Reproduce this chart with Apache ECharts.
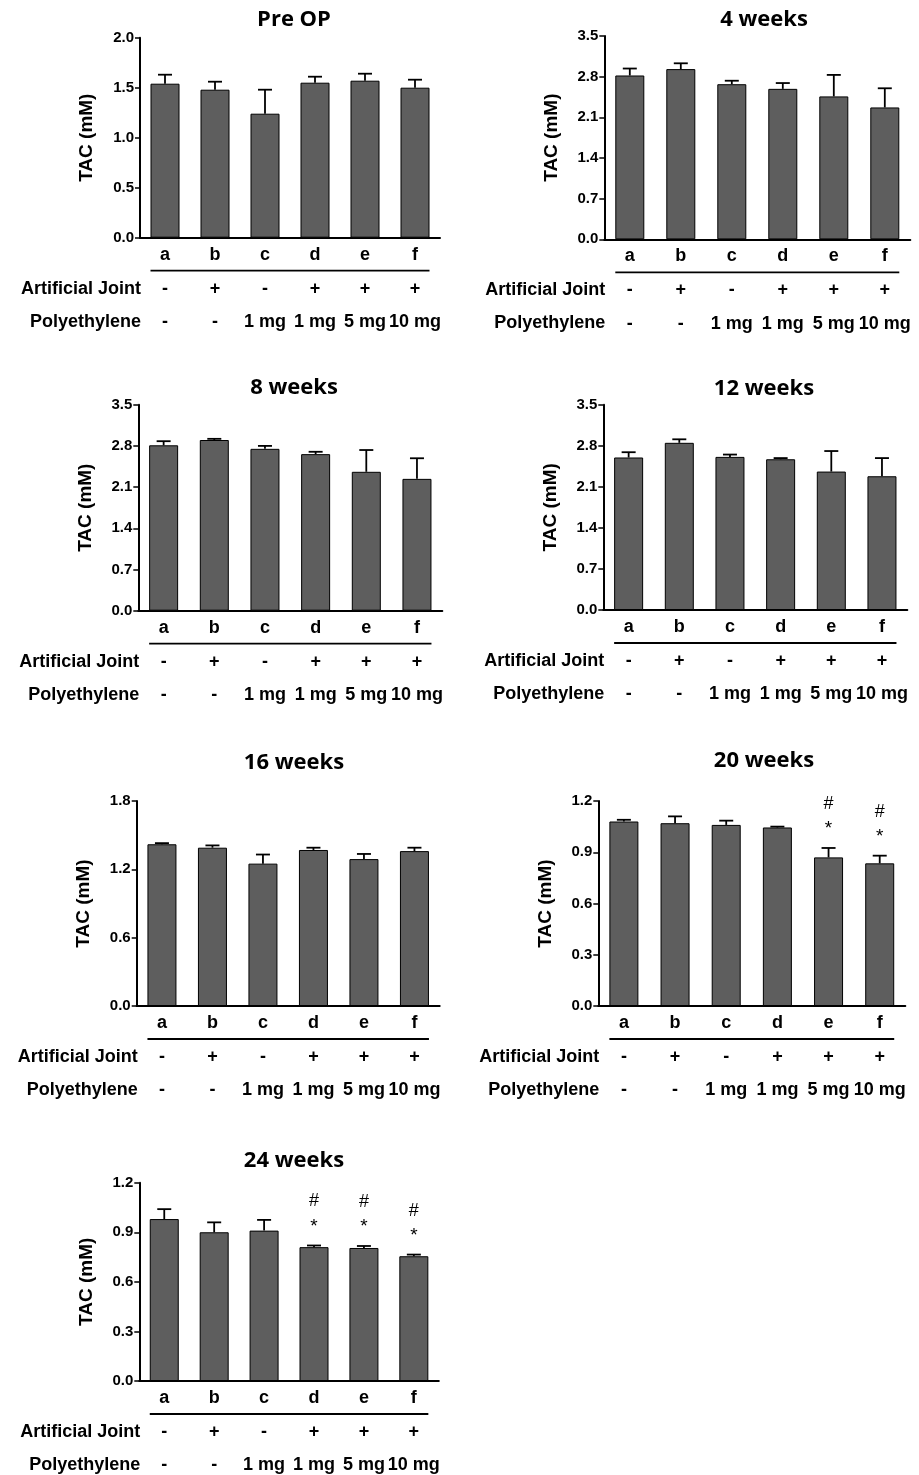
<!DOCTYPE html>
<html>
<head>
<meta charset="utf-8">
<script src="https://cdn.jsdelivr.net/npm/echarts@6/dist/echarts.min.js"></script>
<style>
html,body{margin:0;padding:0;background:#fff;}
#c{width:919px;height:1475px;}
</style>
</head>
<body>
<div id="c"></div>
<script>
// ---------------- data ----------------
const categories = ['a', 'b', 'c', 'd', 'e', 'f'];
const artificialJoint = ['-', '+', '-', '+', '+', '+'];
const polyethylene = ['-', '-', '1 mg', '1 mg', '5 mg', '10 mg'];
const rowTitles = ['Artificial Joint', 'Polyethylene'];
const panelTitles = ['Pre OP', '4 weeks', '8 weeks', '12 weeks', '16 weeks', '20 weeks', '24 weeks'];
const yAxisTitle = 'TAC (mM)';

const preOpMean = [1.54, 1.48, 1.24, 1.55, 1.57, 1.50];
const preOpSem  = [0.09, 0.08, 0.24, 0.06, 0.07, 0.08];
const week4Mean = [2.82, 2.93, 2.67, 2.59, 2.46, 2.27];
const week4Sem  = [0.12, 0.10, 0.06, 0.10, 0.37, 0.33];
const week8Mean = [2.81, 2.90, 2.75, 2.66, 2.36, 2.24];
const week8Sem  = [0.07, 0.02, 0.05, 0.04, 0.37, 0.35];
const week12Mean = [2.60, 2.85, 2.61, 2.57, 2.36, 2.28];
const week12Sem  = [0.09, 0.06, 0.04, 0.02, 0.35, 0.31];
const week16Mean = [1.42, 1.39, 1.25, 1.37, 1.29, 1.36];
const week16Sem  = [0.01, 0.02, 0.08, 0.02, 0.045, 0.03];
const week20Mean = [1.08, 1.07, 1.06, 1.045, 0.87, 0.835];
const week20Sem  = [0.01, 0.04, 0.025, 0.005, 0.055, 0.045];
const week24Mean = [0.98, 0.90, 0.91, 0.81, 0.805, 0.755];
const week24Sem  = [0.06, 0.06, 0.065, 0.01, 0.012, 0.01];

const noSig = ['', '', '', '', '', ''];
const week20Sig = ['', '', '', '', '#*', '#*'];
const week24Sig = ['', '', '', '#*', '#*', '#*'];

const yMaxes = [2.0, 3.5, 3.5, 3.5, 1.8, 1.2, 1.2];
const yIntervals = [0.5, 0.7, 0.7, 0.7, 0.6, 0.3, 0.3];

const means = [preOpMean, week4Mean, week8Mean, week12Mean, week16Mean, week20Mean, week24Mean];
const sems = [preOpSem, week4Sem, week8Sem, week12Sem, week16Sem, week20Sem, week24Sem];
const sigs = [noSig, noSig, noSig, noSig, noSig, week20Sig, week24Sig];

// ---------------- layout ----------------
const layout = [
  {left: 140,   top: 37.7,  width: 300,   height: 200,   tx: 294, ty: 20},
  {left: 604.3, top: 36,    width: 306,   height: 203.3, tx: 764, ty: 20},
  {left: 138.3, top: 404.7, width: 304,   height: 206,   tx: 294, ty: 387.3},
  {left: 603.3, top: 404.7, width: 304,   height: 205.3, tx: 764, ty: 388.3},
  {left: 136.7, top: 801,   width: 303,   height: 205,   tx: 294, ty: 762.7},
  {left: 598.3, top: 801,   width: 307,   height: 205,   tx: 764, ty: 760.7},
  {left: 139.3, top: 1182.7,width: 299.5, height: 198.3, tx: 294, ty: 1160.7}
];

const FONT = '"Liberation Sans", Arial, sans-serif';
const TITLE_FONT = '"Open Sans", "Liberation Sans", sans-serif';
const BAR_COLOR = '#5e5e5e';

const grids = [], xAxes = [], yAxes = [], series = [];

layout.forEach((L, k) => {
  grids.push({left: L.left, top: L.top, width: L.width, height: L.height, containLabel: false});
  xAxes.push({
    type: 'category', gridIndex: k, data: categories,
    axisLine: {lineStyle: {color: '#000', width: 2}},
    axisTick: {show: false},
    axisLabel: {
      interval: 0, margin: 0, color: '#000',
      formatter: (v, i) => '{c|' + v + '}\n{s|' + artificialJoint[i] + '}\n{p|' + polyethylene[i] + '}',
      rich: {
        c: {fontSize: 18, fontWeight: 'bold', fontFamily: FONT, lineHeight: 34, color: '#000'},
        s: {fontSize: 18, fontWeight: 'bold', fontFamily: FONT, lineHeight: 34, color: '#000'},
        p: {fontSize: 18, fontWeight: 'bold', fontFamily: FONT, lineHeight: 33, color: '#000'}
      }
    },
    splitLine: {show: false}
  });
  yAxes.push({
    type: 'value', gridIndex: k, min: 0, max: yMaxes[k], interval: yIntervals[k],
    axisLine: {show: true, lineStyle: {color: '#000', width: 2}},
    axisTick: {show: true, length: 5, lineStyle: {color: '#000', width: 1.5}},
    axisLabel: {margin: 6, color: '#000', fontSize: 15, fontWeight: 'bold', fontFamily: FONT,
      formatter: v => v.toFixed(1)},
    splitLine: {show: false}
  });
  series.push({
    type: 'bar', xAxisIndex: k, yAxisIndex: k, barWidth: 29,
    data: means[k],
    itemStyle: {color: BAR_COLOR, borderColor: '#000', borderWidth: 1},
    silent: true, z: 2
  });
  const sigArr = sigs[k];
  series.push({
    type: 'custom', xAxisIndex: k, yAxisIndex: k, z: 5, silent: true,
    data: categories.map((c, i) => [i, means[k][i], sems[k][i]]),
    renderItem: (params, api) => {
      const i = api.value(0), m = api.value(1), s = api.value(2);
      const base = api.coord([i, m]);
      const top = api.coord([i, m + s]);
      const half = 7;
      const ls = {stroke: '#000', lineWidth: 1.8};
      const children = [
        {type: 'line', shape: {x1: base[0], y1: base[1], x2: top[0], y2: top[1]}, style: ls},
        {type: 'line', shape: {x1: top[0] - half, y1: top[1], x2: top[0] + half, y2: top[1]}, style: ls}
      ];
      const sg = sigArr[params.dataIndex];
      if (sg.indexOf('*') >= 0) {
        children.push({type: 'text', style: {text: '*', x: top[0], y: top[1] - 19, align: 'center',
          verticalAlign: 'middle', fontSize: 19, fontFamily: FONT, fill: '#000'}});
      }
      if (sg.indexOf('#') >= 0) {
        children.push({type: 'text', style: {text: '#', x: top[0], y: top[1] - 44, align: 'center',
          verticalAlign: 'middle', fontSize: 18, fontFamily: FONT, fill: '#000'}});
      }
      return {type: 'group', children: children};
    }
  });
});

const chart = echarts.init(document.getElementById('c'), null, {renderer: 'canvas'});
chart.setOption({
  animation: false,
  backgroundColor: '#fff',
  grid: grids, xAxis: xAxes, yAxis: yAxes, series: series
});

// ---------------- annotations (titles, row labels, underline) ----------------
const graphics = [];
layout.forEach((L, k) => {
  const zeroY = chart.convertToPixel({yAxisIndex: k}, 0);
  const firstX = chart.convertToPixel({xAxisIndex: k}, categories[0]);
  const lastX = chart.convertToPixel({xAxisIndex: k}, categories[categories.length - 1]);
  graphics.push({
    type: 'text', x: L.tx, y: L.ty,
    style: {text: panelTitles[k], align: 'center', verticalAlign: 'middle',
      fontSize: 22, fontWeight: 'bold', fontFamily: TITLE_FONT, fill: '#000'}
  });
  graphics.push({
    type: 'text', x: L.left - 53, y: L.top + L.height / 2, rotation: Math.PI / 2,
    style: {text: yAxisTitle, align: 'center', verticalAlign: 'middle',
      fontSize: 19, fontWeight: 'bold', fontFamily: FONT, fill: '#000'}
  });
  graphics.push({
    type: 'line',
    shape: {x1: firstX - 14.5, y1: zeroY + 33, x2: lastX + 14.5, y2: zeroY + 33},
    style: {stroke: '#000', lineWidth: 1.8}
  });
  graphics.push({
    type: 'text', x: L.left + 1, y: zeroY + 51,
    style: {text: rowTitles[0], align: 'right', verticalAlign: 'middle',
      fontSize: 18, fontWeight: 'bold', fontFamily: FONT, fill: '#000'}
  });
  graphics.push({
    type: 'text', x: L.left + 1, y: zeroY + 84,
    style: {text: rowTitles[1], align: 'right', verticalAlign: 'middle',
      fontSize: 18, fontWeight: 'bold', fontFamily: FONT, fill: '#000'}
  });
});
chart.setOption({graphic: {elements: graphics}});
</script>
</body>
</html>
